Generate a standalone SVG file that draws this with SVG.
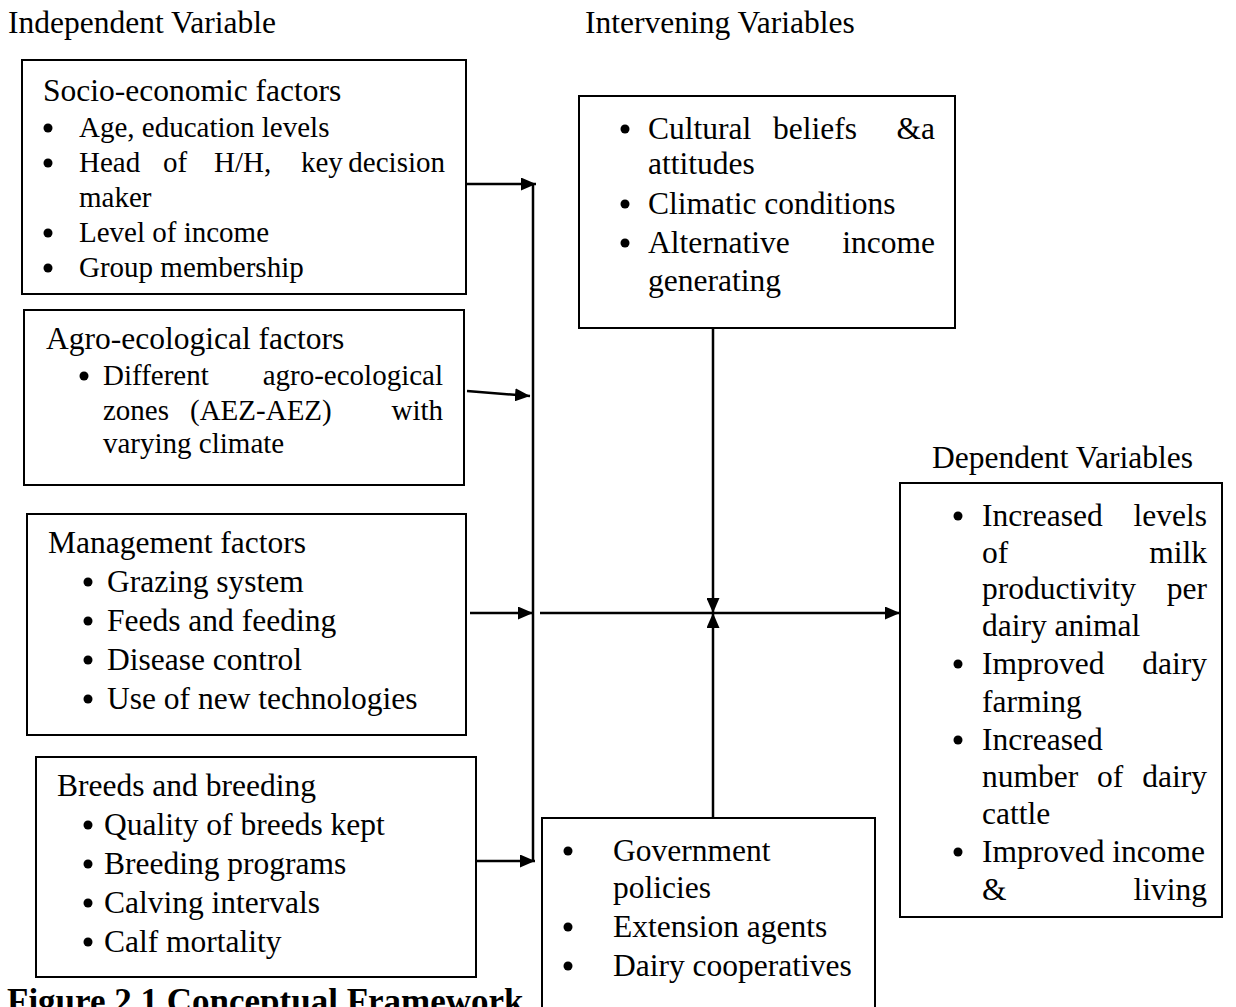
<svg xmlns="http://www.w3.org/2000/svg" width="1236" height="1007" viewBox="0 0 1236 1007">
<style>
text{font-family:"Liberation Serif","Times New Roman",serif;font-size:31.5px;fill:#000}
.s{font-size:29px}
.e{text-anchor:end}
.box{fill:#fff;stroke:#000;stroke-width:2}
.ln{stroke:#000;stroke-width:2.5;fill:none}
.dot{fill:#000}
.cap{font-weight:bold;font-size:35px}
</style>
<defs>
<marker id="ah" viewBox="0 0 15 13" refX="15" refY="6.5" markerWidth="15" markerHeight="13" markerUnits="userSpaceOnUse" orient="auto">
<path d="M0,0 L15,6.5 L0,13 Z" fill="#000"/>
</marker>
</defs>
<rect width="1236" height="1007" fill="#fff"/>
<text x="8" y="33">Independent Variable</text>
<text x="585" y="33">Intervening Variables</text>
<text x="932" y="468">Dependent Variables</text>

<g id="socio">
<rect class="box" x="22" y="60" width="444" height="234"/>
<text x="43" y="101">Socio-economic factors</text>
<circle class="dot" cx="48" cy="128" r="4.5"/><text class="s" x="79" y="137">Age, education levels</text>
<circle class="dot" cx="48" cy="163" r="4.5"/><text class="s" x="79" y="172">Head</text><text class="s" x="163" y="172">of</text><text class="s" x="214" y="172">H/H,</text><text class="s" x="301" y="172">key</text><text class="s e" x="445" y="172">decision</text>
<text class="s" x="79" y="207">maker</text>
<circle class="dot" cx="48" cy="233" r="4.5"/><text class="s" x="79" y="242">Level of income</text>
<circle class="dot" cx="48" cy="268" r="4.5"/><text class="s" x="79" y="277">Group membership</text>
</g>

<g id="agro">
<rect class="box" x="24" y="310" width="440" height="175"/>
<text x="46" y="349">Agro-ecological factors</text>
<circle class="dot" cx="84" cy="376" r="4.5"/><text class="s" x="103" y="385">Different</text><text class="s e" x="443" y="385">agro-ecological</text>
<text class="s" x="103" y="420">zones</text><text class="s" x="190" y="420">(AEZ-AEZ)</text><text class="s e" x="443" y="420">with</text>
<text class="s" x="103" y="453">varying climate</text>
</g>

<g id="management">
<rect class="box" x="27" y="514" width="439" height="221"/>
<text x="48" y="553">Management factors</text>
<circle class="dot" cx="88" cy="582" r="4.5"/><text x="107" y="592">Grazing system</text>
<circle class="dot" cx="88" cy="621" r="4.5"/><text x="107" y="631">Feeds and feeding</text>
<circle class="dot" cx="88" cy="660" r="4.5"/><text x="107" y="670">Disease control</text>
<circle class="dot" cx="88" cy="699" r="4.5"/><text x="107" y="709">Use of new technologies</text>
</g>

<g id="breeds">
<rect class="box" x="36" y="757" width="440" height="220"/>
<text x="57" y="796">Breeds and breeding</text>
<circle class="dot" cx="88" cy="825" r="4.5"/><text x="104" y="835">Quality of breeds kept</text>
<circle class="dot" cx="88" cy="864" r="4.5"/><text x="104" y="874">Breeding programs</text>
<circle class="dot" cx="88" cy="903" r="4.5"/><text x="104" y="913">Calving intervals</text>
<circle class="dot" cx="88" cy="942" r="4.5"/><text x="104" y="952">Calf mortality</text>
</g>

<g id="intervening">
<rect class="box" x="579" y="96" width="376" height="232"/>
<circle class="dot" cx="625" cy="129" r="4.5"/><text x="648" y="139">Cultural</text><text x="773" y="139">beliefs</text><text class="e" x="935" y="139">&amp;a</text>
<text x="648" y="174">attitudes</text>
<circle class="dot" cx="625" cy="204" r="4.5"/><text x="648" y="214">Climatic conditions</text>
<circle class="dot" cx="625" cy="243" r="4.5"/><text x="648" y="253">Alternative</text><text class="e" x="935" y="253">income</text>
<text x="648" y="291">generating</text>
</g>

<g id="government">
<rect class="box" x="542" y="818" width="333" height="200"/>
<circle class="dot" cx="568" cy="851" r="4.5"/><text x="613" y="861">Government</text>
<text x="613" y="898">policies</text>
<circle class="dot" cx="568" cy="927" r="4.5"/><text x="613" y="937">Extension agents</text>
<circle class="dot" cx="568" cy="966" r="4.5"/><text x="613" y="976">Dairy cooperatives</text>
</g>

<g id="dependent">
<rect class="box" x="900" y="483" width="322" height="434"/>
<circle class="dot" cx="958" cy="516" r="4.5"/><text x="982" y="526">Increased</text><text class="e" x="1207" y="526">levels</text>
<text x="982" y="563">of</text><text class="e" x="1207" y="563">milk</text>
<text x="982" y="599">productivity</text><text class="e" x="1207" y="599">per</text>
<text x="982" y="636">dairy animal</text>
<circle class="dot" cx="958" cy="664" r="4.5"/><text x="982" y="674">Improved</text><text class="e" x="1207" y="674">dairy</text>
<text x="982" y="712">farming</text>
<circle class="dot" cx="958" cy="740" r="4.5"/><text x="982" y="750">Increased</text>
<text x="982" y="787">number</text><text x="1097" y="787">of</text><text class="e" x="1207" y="787">dairy</text>
<text x="982" y="824">cattle</text>
<circle class="dot" cx="958" cy="852" r="4.5"/><text x="982" y="862">Improved income</text>
<text x="982" y="900">&amp;</text><text class="e" x="1207" y="900">living</text>
</g>

<g id="connectors">
<line class="ln" x1="533" y1="184" x2="533" y2="860"/>
<line class="ln" x1="466" y1="184" x2="536" y2="184" marker-end="url(#ah)"/>
<line class="ln" x1="467" y1="391" x2="530" y2="396" marker-end="url(#ah)"/>
<line class="ln" x1="470" y1="613" x2="533" y2="613" marker-end="url(#ah)"/>
<line class="ln" x1="476" y1="861" x2="535" y2="861" marker-end="url(#ah)"/>
<line class="ln" x1="540" y1="613" x2="900" y2="613" marker-end="url(#ah)"/>
<line class="ln" x1="713" y1="328" x2="713" y2="613" marker-end="url(#ah)"/>
<line class="ln" x1="713" y1="818" x2="713" y2="613" marker-end="url(#ah)"/>
</g>

<text class="cap" x="7" y="1013">Figure 2.1 Conceptual Framework</text>
</svg>
